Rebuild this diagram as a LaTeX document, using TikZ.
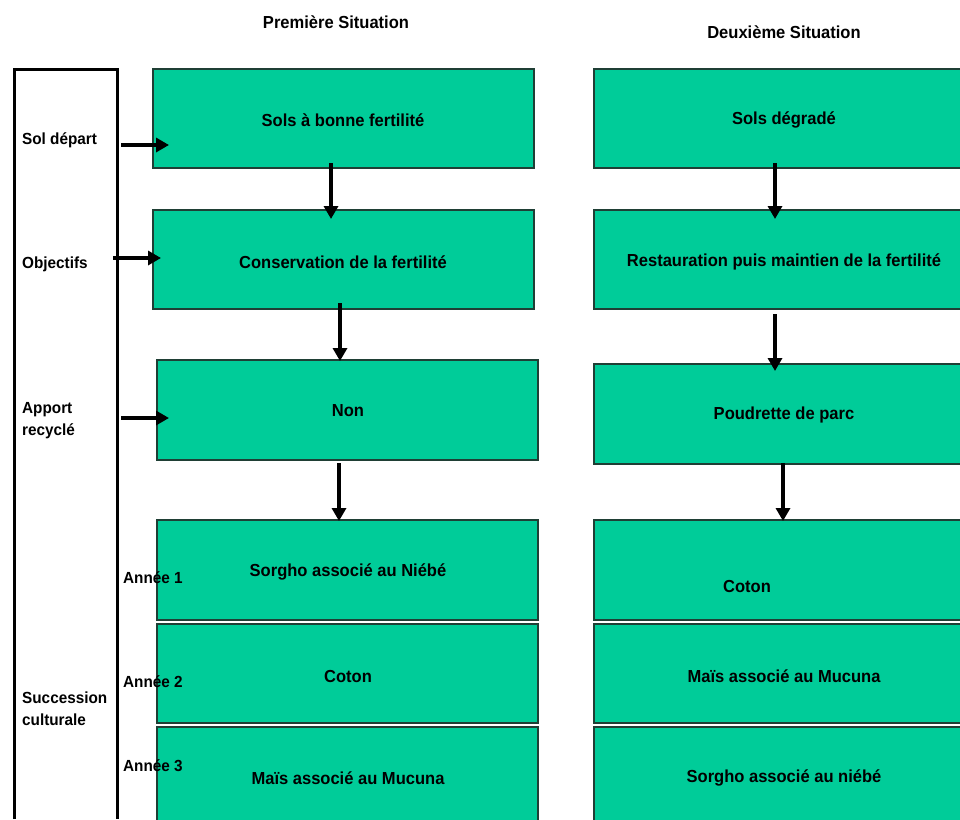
\documentclass[tikz,border=0pt]{standalone}
\usepackage{fontspec}
\setmainfont{Liberation Sans}[FakeStretch=0.95]
\usetikzlibrary{arrows.meta}
\definecolor{boxgreen}{HTML}{00CC99}
\definecolor{boxline}{HTML}{1F3F35}
\begin{document}
\begin{tikzpicture}[x=1pt,y=-1pt,
  every node/.style={font=\fontsize{17.4}{20}\selectfont\bfseries},
  gbox/.style={draw=boxline,line width=1.3pt,fill=boxgreen},
  arr/.style={line width=3.6pt,-{Triangle[length=13pt,width=14pt]}},
  lbl/.style={anchor=west,align=left,inner sep=0pt,font=\fontsize{16.1}{22}\selectfont\bfseries}]
\useasboundingbox (0,0) rectangle (960,819);
\begin{scope}
\clip (0,0) rectangle (960,819);
% left bracket
\draw[line width=3pt] (14,819) -- (14,69) -- (117,69) -- (117,819);
% left column boxes
\filldraw[gbox] (153,69) rectangle (534,168);
\filldraw[gbox] (153,210) rectangle (534,309);
\filldraw[gbox] (157,360) rectangle (538,460);
\filldraw[gbox] (157,520) rectangle (538,620);
\filldraw[gbox] (157,624) rectangle (538,723);
\filldraw[gbox] (157,727) rectangle (538,830);
% right column boxes
\filldraw[gbox] (594,69) rectangle (975,168);
\filldraw[gbox] (594,210) rectangle (975,309);
\filldraw[gbox] (594,364) rectangle (975,464);
\filldraw[gbox] (594,520) rectangle (975,620);
\filldraw[gbox] (594,624) rectangle (975,723);
\filldraw[gbox] (594,727) rectangle (975,830);
\end{scope}
% box texts
\node (l1) at (343,120) {Sols à bonne fertilité};
\node (l2) at (343,262) {Conservation de la fertilité};
\node (l3) at (348,411) {Non};
\node (l4) at (348,572) {Sorgho associé au Niébé};
\node (l5) at (348,676) {Coton};
\node (l6) at (348,778) {Maïs associé au Mucuna};
\node (r1) at (784,120) {Sols dégradé};
\node (r2) at (784,262) {Restauration puis maintien de la fertilité};
\node (r3) at (784,415) {Poudrette de parc};
\node (r4) at (747,587) {Coton};
\node (r5) at (784,676) {Maïs associé au Mucuna};
\node (r6) at (784,778) {Sorgho associé au niébé};
% headers
\node (h1) at (336,22) {Première Situation};
\node (h2) at (784,32) {Deuxième Situation};
% left labels
\node[lbl] (s1) at (22,140) {Sol départ};
\node[lbl] (s2) at (22,264) {Objectifs};
\node[lbl,text width=80pt] (s3) at (22,421) {Apport\\recyclé};
\node[lbl,text width=90pt] (s4) at (22,709) {Succession\\culturale};
\node[lbl] (a1) at (123,578) {Année 1};
\node[lbl] (a2) at (123,682) {Année 2};
\node[lbl] (a3) at (123,766) {Année 3};
% arrow anchor coordinates
\coordinate (v1a) at (331,163); \coordinate (v1b) at (331,219);
\coordinate (v2a) at (340,303); \coordinate (v2b) at (340,361);
\coordinate (v3a) at (339,463); \coordinate (v3b) at (339,521);
\coordinate (w1a) at (775,163); \coordinate (w1b) at (775,219);
\coordinate (w2a) at (775,314); \coordinate (w2b) at (775,371);
\coordinate (w3a) at (783,463); \coordinate (w3b) at (783,521);
\coordinate (h1a) at (121,145); \coordinate (h1b) at (169,145);
\coordinate (h2a) at (113,258); \coordinate (h2b) at (161,258);
\coordinate (h3a) at (121,418); \coordinate (h3b) at (169,418);
\draw[arr] (v1a) -- (v1b);
\draw[arr] (v2a) -- (v2b);
\draw[arr] (v3a) -- (v3b);
\draw[arr] (w1a) -- (w1b);
\draw[arr] (w2a) -- (w2b);
\draw[arr] (w3a) -- (w3b);
\draw[arr] (h1a) -- (h1b);
\draw[arr] (h2a) -- (h2b);
\draw[arr] (h3a) -- (h3b);
\end{tikzpicture}
\end{document}
